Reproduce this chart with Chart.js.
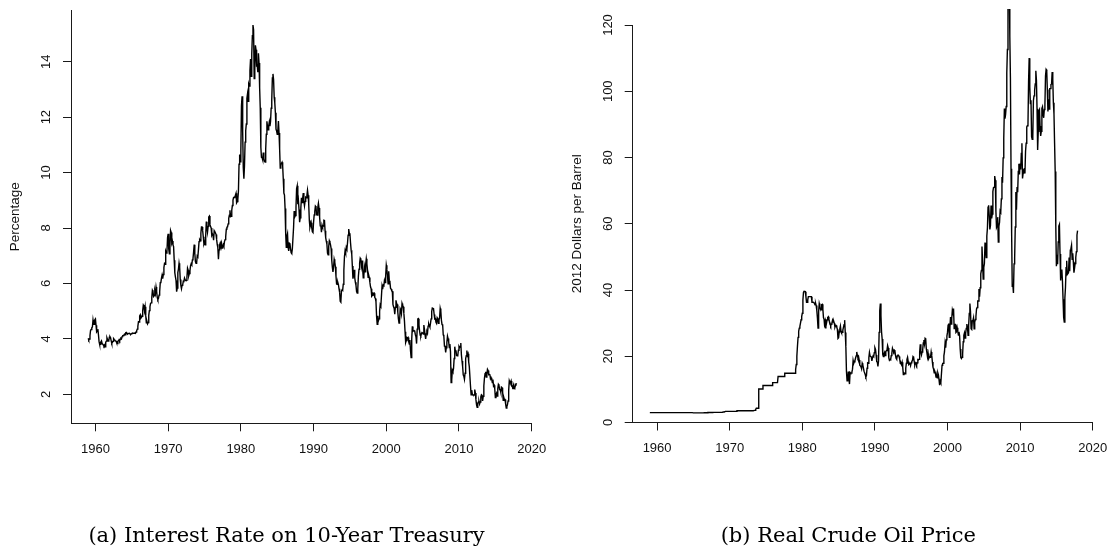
<!DOCTYPE html>
<html><head><meta charset="utf-8">
<script src="https://cdn.jsdelivr.net/npm/chart.js@4.4.1/dist/chart.umd.min.js"></script>
<style>
html,body{margin:0;padding:0;background:#fff;}
body{width:1110px;height:550px;position:relative;overflow:hidden;}
canvas{position:absolute;top:0;}
#c1{left:0px} #c2{left:555px}
.cap{position:absolute;font-family:'DejaVu Serif',serif;font-size:21px;line-height:1;text-align:center;white-space:nowrap;color:#000;top:525px;width:600px;}
</style></head><body>
<canvas id="c1" width="555" height="550"></canvas>
<canvas id="c2" width="555" height="550"></canvas>
<div class="cap" style="left:-13.5px">(a) Interest Rate on 10-Year Treasury</div>
<div class="cap" style="left:548.3px">(b) Real Crude Oil Price</div>
<script>
// ---- data (monthly, Jan 1959 - Dec 2017) ----
const years = [1959,1960,1961,1962,1963,1964,1965,1966,1967,1968,1969,1970,1971,1972,1973,1974,1975,1976,1977,1978,1979,1980,1981,1982,1983,1984,1985,1986,1987,1988,1989,1990,1991,1992,1993,1994,1995,1996,1997,1998,1999,2000,2001,2002,2003,2004,2005,2006,2007,2008,2009,2010,2011,2012,2013,2014,2015,2016,2017];
const monthsPerYear = 12;

const treasuryRate = [
4.02,3.96,3.99,4.12,4.31,4.34,4.40,4.43,4.68,4.53,4.53,4.69,
4.72,4.49,4.25,4.28,4.35,4.15,3.90,3.80,3.80,3.89,3.93,3.84,
3.84,3.78,3.74,3.78,3.71,3.88,3.92,4.04,3.98,3.92,3.94,4.06,
4.08,4.04,3.93,3.84,3.87,3.91,4.01,3.98,3.98,3.93,3.92,3.86,
3.83,3.92,3.93,3.97,3.93,3.99,4.02,4.00,4.08,4.11,4.12,4.13,
4.17,4.15,4.22,4.23,4.20,4.17,4.19,4.19,4.20,4.19,4.15,4.18,
4.19,4.21,4.21,4.20,4.21,4.21,4.20,4.25,4.29,4.35,4.45,4.62,
4.61,4.83,4.87,4.75,4.78,4.81,5.02,5.22,5.18,5.01,5.16,4.84,
4.58,4.63,4.54,4.59,4.85,5.02,5.16,5.28,5.30,5.48,5.75,5.70,
5.53,5.56,5.74,5.64,5.87,5.72,5.50,5.42,5.46,5.58,5.70,6.03,
6.04,6.19,6.30,6.17,6.32,6.57,6.72,6.69,7.16,7.10,7.14,7.65,
7.79,7.24,7.07,7.39,7.91,7.84,7.46,7.53,7.39,7.33,6.84,6.39,
6.24,6.11,5.70,5.83,6.39,6.52,6.73,6.58,6.14,5.93,5.81,5.93,
5.95,6.08,6.07,6.19,6.13,6.11,6.11,6.21,6.55,6.48,6.28,6.36,
6.46,6.64,6.71,6.67,6.85,6.90,7.13,7.40,7.09,6.79,6.73,6.74,
6.99,6.96,7.21,7.51,7.58,7.54,7.81,8.04,8.04,7.90,7.68,7.43,
7.50,7.39,7.73,8.23,8.06,7.86,8.06,8.40,8.43,8.14,8.05,8.00,
7.74,7.79,7.73,7.56,7.90,7.86,7.83,7.77,7.59,7.41,7.29,6.87,
7.21,7.39,7.46,7.37,7.46,7.28,7.33,7.40,7.34,7.52,7.58,7.69,
7.96,8.03,8.04,8.15,8.35,8.46,8.64,8.41,8.42,8.64,8.81,9.01,
9.10,9.10,9.12,9.18,9.25,8.91,8.95,9.03,9.33,10.30,10.65,10.39,
10.80,12.41,12.75,11.47,10.18,9.78,10.25,11.10,11.51,11.75,12.68,12.84,
12.57,13.19,13.12,13.68,14.10,13.47,14.28,14.94,15.32,15.15,13.39,13.72,
14.59,14.43,13.86,13.87,13.62,14.30,13.95,13.06,12.34,10.91,10.55,10.54,
10.46,10.72,10.51,10.40,10.38,10.85,11.38,11.85,11.65,11.54,11.69,11.83,
11.67,11.84,12.32,12.63,13.41,13.56,13.36,12.72,12.52,12.16,11.57,11.50,
11.38,11.51,11.86,11.43,10.85,10.16,10.31,10.33,10.37,10.24,9.78,9.26,
9.19,8.70,7.78,7.30,7.71,7.80,7.30,7.17,7.45,7.43,7.25,7.11,
7.08,7.25,7.25,8.02,8.61,8.40,8.45,8.76,9.42,9.52,8.86,8.99,
8.67,8.21,8.37,8.72,9.09,8.92,9.06,9.26,8.98,8.80,8.96,9.11,
9.09,9.17,9.36,9.18,8.86,8.28,8.02,8.11,8.19,8.01,7.87,7.84,
8.21,8.47,8.59,8.79,8.76,8.48,8.47,8.75,8.89,8.72,8.39,8.08,
8.09,7.85,8.11,8.04,8.07,8.28,8.27,7.90,7.65,7.53,7.42,7.09,
7.03,7.34,7.54,7.48,7.39,7.26,6.84,6.59,6.42,6.59,6.87,6.77,
6.60,6.26,5.98,5.97,6.04,5.96,5.81,5.68,5.36,5.33,5.72,5.77,
5.75,5.97,6.48,6.97,7.18,7.10,7.30,7.24,7.46,7.74,7.96,7.81,
7.78,7.47,7.20,7.06,6.63,6.17,6.28,6.49,6.20,6.04,5.93,5.71,
5.65,5.81,6.27,6.51,6.74,6.91,6.87,6.64,6.83,6.53,6.20,6.30,
6.58,6.42,6.69,6.89,6.71,6.49,6.22,6.30,6.21,6.03,5.88,5.81,
5.54,5.57,5.65,5.64,5.65,5.50,5.46,5.34,4.81,4.53,4.83,4.65,
4.72,5.00,5.23,5.18,5.54,5.90,5.79,5.94,5.92,6.11,6.03,6.28,
6.66,6.52,6.26,5.99,6.44,6.10,6.05,5.83,5.80,5.74,5.72,5.24,
5.16,5.10,4.89,5.14,5.39,5.28,5.24,4.97,4.73,4.57,4.65,5.09,
5.04,4.91,5.28,5.21,5.16,4.93,4.65,4.26,3.87,3.94,4.05,4.03,
4.05,3.90,3.81,3.96,3.57,3.33,3.98,4.45,4.27,4.29,4.30,4.27,
4.15,4.08,3.83,4.35,4.72,4.73,4.50,4.28,4.13,4.10,4.19,4.23,
4.22,4.17,4.50,4.34,4.14,4.00,4.18,4.26,4.20,4.46,4.54,4.47,
4.42,4.57,4.72,4.99,5.11,5.11,5.09,4.88,4.72,4.73,4.60,4.56,
4.76,4.72,4.56,4.69,4.75,5.10,5.00,4.67,4.52,4.53,4.15,4.10,
3.74,3.74,3.51,3.68,3.88,4.10,4.01,3.89,3.69,3.81,3.53,2.42,
2.52,2.87,2.82,2.93,3.29,3.72,3.56,3.59,3.40,3.39,3.40,3.59,
3.73,3.69,3.73,3.85,3.42,3.20,3.01,2.70,2.65,2.54,2.76,3.29,
3.39,3.58,3.41,3.46,3.17,3.00,3.00,2.30,1.98,2.15,2.01,1.98,
1.97,1.97,2.17,2.05,1.80,1.62,1.53,1.68,1.72,1.75,1.65,1.72,
1.91,1.98,1.96,1.76,1.93,2.30,2.58,2.74,2.81,2.62,2.72,2.90,
2.86,2.71,2.72,2.71,2.56,2.60,2.54,2.42,2.53,2.30,2.33,2.21,
1.88,1.98,2.04,1.94,2.20,2.36,2.32,2.17,2.17,2.07,2.26,2.24,
2.09,1.78,1.89,1.81,1.81,1.64,1.50,1.56,1.63,1.76,2.14,2.49,
2.43,2.42,2.48,2.30,2.30,2.19,2.32,2.21,2.20,2.36,2.35,2.40
];

const oilPrice = [
2.97,2.97,2.97,2.97,2.97,2.97,2.97,2.97,2.97,2.97,2.97,2.97,
2.97,2.97,2.97,2.97,2.97,2.97,2.97,2.97,2.97,2.97,2.97,2.97,
2.97,2.97,2.97,2.97,2.97,2.97,2.97,2.97,2.97,2.97,2.97,2.97,
2.97,2.97,2.97,2.97,2.97,2.97,2.97,2.97,2.97,2.97,2.97,2.97,
2.97,2.97,2.97,2.97,2.97,2.97,2.97,2.97,2.97,2.97,2.97,2.97,
2.97,2.97,2.97,2.97,2.97,2.97,2.97,2.97,2.97,2.97,2.97,2.97,
2.92,2.92,2.92,2.92,2.92,2.92,2.92,2.92,2.92,2.92,2.92,2.92,
2.92,2.92,2.92,2.92,2.92,2.92,2.94,2.94,2.94,2.94,2.94,2.94,
3.00,3.00,3.00,3.00,3.00,3.00,3.00,3.00,3.07,3.07,3.07,3.07,
3.07,3.07,3.07,3.07,3.07,3.07,3.07,3.07,3.07,3.07,3.07,3.07,
3.07,3.18,3.18,3.18,3.18,3.35,3.35,3.35,3.35,3.35,3.35,3.35,
3.35,3.35,3.35,3.35,3.35,3.35,3.35,3.35,3.35,3.35,3.35,3.35,
3.56,3.56,3.56,3.56,3.56,3.56,3.56,3.56,3.56,3.56,3.56,3.56,
3.56,3.56,3.56,3.56,3.56,3.56,3.56,3.56,3.56,3.56,3.56,3.56,
3.56,3.56,3.56,3.56,3.56,3.66,3.66,3.98,4.31,4.31,4.31,4.31,
10.11,10.11,10.11,10.11,10.11,10.11,10.11,11.16,11.16,11.16,11.16,11.16,
11.16,11.16,11.16,11.16,11.16,11.16,11.16,11.16,11.16,11.16,11.16,12.03,
12.03,12.03,12.03,12.03,12.03,12.03,12.03,12.03,13.90,13.90,13.90,13.90,
13.90,13.90,13.90,13.90,13.90,13.90,13.90,14.85,14.85,14.85,14.85,14.85,
14.85,14.85,14.85,14.85,14.85,14.85,14.85,14.85,14.85,14.85,14.85,14.85,
14.85,16.00,17.50,20.00,23.00,25.70,27.50,28.50,29.00,30.00,31.00,32.00,
33.00,37.00,39.30,39.60,39.60,39.50,38.00,36.30,36.30,37.00,38.00,38.00,
38.00,38.00,38.00,38.00,36.30,36.30,36.30,36.30,36.00,35.50,36.00,35.30,
33.80,31.60,28.50,33.50,35.90,35.10,34.20,34.00,35.60,35.70,34.20,31.70,
31.20,29.00,28.60,30.60,30.00,31.00,31.70,31.90,31.10,30.40,29.80,29.20,
29.70,30.10,30.90,30.30,30.50,29.90,28.80,29.30,29.30,28.80,28.10,25.40,
25.60,27.30,28.20,29.10,27.60,27.10,27.20,27.90,28.70,29.50,30.90,27.20,
22.90,15.40,12.60,12.80,15.40,13.40,11.60,15.10,14.90,14.90,15.20,16.10,
18.70,17.80,18.30,18.70,19.40,20.10,21.30,20.30,19.50,19.90,18.90,17.30,
17.10,16.80,16.20,17.90,17.40,16.50,15.50,15.50,14.50,13.80,14.10,16.40,
18.00,17.90,19.50,21.10,20.10,20.10,19.80,18.60,19.60,20.10,19.90,21.10,
22.60,22.10,20.40,18.40,18.20,16.90,18.60,27.20,33.70,35.90,32.30,27.30,
25.20,20.50,19.90,20.80,21.20,20.20,21.40,21.70,21.90,23.20,22.50,19.50,
18.80,19.00,18.90,20.20,20.90,22.40,21.80,21.40,21.90,21.70,20.30,19.40,
19.10,20.10,20.30,20.30,19.90,19.10,17.90,18.00,17.50,18.20,16.70,14.50,
15.00,14.80,14.70,16.40,17.90,19.10,19.70,18.40,17.50,17.70,18.10,17.20,
18.00,18.50,18.60,19.90,19.70,18.40,17.30,17.90,18.00,17.40,18.00,19.00,
18.90,19.10,21.30,23.60,21.20,20.40,21.30,22.00,24.00,24.90,23.70,25.40,
25.20,22.20,21.00,19.70,20.80,19.30,19.70,19.90,19.80,21.30,20.20,18.30,
16.70,16.10,15.00,15.40,14.90,13.70,14.20,13.50,15.00,14.40,12.90,11.30,
12.50,12.00,14.70,17.30,17.80,17.90,20.10,21.30,23.90,22.60,25.00,26.10,
27.20,29.40,29.90,25.70,28.80,31.80,29.70,31.30,33.90,33.10,34.40,28.40,
29.60,29.60,27.20,27.40,28.60,27.60,26.40,27.40,26.20,22.20,19.60,19.30,
19.70,20.70,24.40,26.30,27.00,25.50,26.90,28.40,29.70,28.80,26.30,29.40,
32.90,35.90,33.60,28.30,28.10,30.70,30.80,31.60,28.30,30.30,31.10,32.10,
34.30,34.70,36.70,36.70,40.30,38.00,40.70,44.90,45.90,53.10,48.50,43.30,
46.80,48.00,54.30,53.00,49.80,56.30,58.70,65.00,65.60,62.40,58.30,59.40,
65.50,61.60,62.90,69.70,70.90,71.00,74.40,73.10,63.80,58.90,59.40,62.00,
54.50,59.30,60.40,63.90,63.50,67.50,74.10,72.40,79.90,85.80,94.80,91.70,
93.00,95.40,105.50,112.60,125.40,133.90,133.40,116.70,104.10,76.60,57.30,41.10,
41.70,39.10,47.90,49.70,59.00,69.60,64.20,71.10,69.50,75.80,78.10,74.90,
78.20,76.40,81.20,84.30,73.70,75.30,76.30,76.60,75.20,81.90,84.30,89.20,
89.60,89.70,102.90,110.00,101.30,96.30,97.30,86.30,85.50,86.30,97.20,98.60,
100.30,102.20,106.20,103.30,94.70,82.30,87.90,94.10,94.50,89.50,86.50,87.90,
94.80,95.30,92.90,92.00,94.50,95.80,104.60,106.60,106.30,100.50,93.90,97.60,
94.60,100.80,100.80,102.10,102.20,105.80,103.60,96.50,93.20,84.40,75.80,59.30,
47.20,50.60,47.80,54.50,59.30,59.80,50.90,42.90,45.50,46.20,42.70,37.20,
31.70,30.30,37.60,40.80,46.70,48.80,44.70,44.70,45.20,49.80,45.70,52.00,
52.50,53.50,49.30,51.10,48.50,45.20,46.60,48.00,49.80,51.60,56.60,57.90
];

const xTicks = [1960,1970,1980,1990,2000,2010,2020];
const treasuryTicks = [2,4,6,8,10,12,14];
const oilTicks = [0,20,40,60,80,100,120];
const treasuryLabel = 'Percentage';
const oilLabel = '2012 Dollars per Barrel';

// month dates for each observation
const monthDates = [];
years.forEach(y => { for (let m = 0; m < monthsPerYear; m++) monthDates.push(y + m / monthsPerYear); });

const SANS = "'Liberation Sans', Arial, Helvetica, sans-serif";
const AXIS = '#1a1a1a';
const TEXT = '#111';
Chart.defaults.font.family = SANS;

function makePanel(id, values, cfg) {
  const pts = values.map((v, i) => ({x: monthDates[i], y: v}));
  return new Chart(document.getElementById(id), {
    type: 'line',
    data: { datasets: [{
      data: pts, borderColor: '#000', borderWidth: 1.4, pointRadius: 0,
      tension: 0, fill: false, clip: cfg.clip
    }]},
    options: {
      responsive: false, animation: false, devicePixelRatio: 1,
      layout: { padding: cfg.pad },
      plugins: { legend: {display: false}, tooltip: {enabled: false}, title: {display: false} },
      scales: {
        x: {
          type: 'linear', min: 1956.64, max: 2020,
          afterBuildTicks: s => { s.ticks = xTicks.map(v => ({value: v})); },
          afterFit: s => { s.height = 40; s.paddingLeft = 0; s.paddingRight = 0; },
          grid: {display: true, drawOnChartArea: false, drawTicks: true, tickLength: 8, color: AXIS, lineWidth: 1},
          border: {display: true, color: AXIS, width: 1},
          ticks: {maxRotation: 0, minRotation: 0, padding: 10.5, color: TEXT, font: {size: 13},
                  callback: v => String(v)}
        },
        y: {
          type: 'linear', min: cfg.yMin, max: cfg.yMax,
          afterBuildTicks: s => { s.ticks = cfg.yTicks.map(v => ({value: v})); },
          afterFit: s => { s.width = cfg.yWidth; s.paddingTop = 0; s.paddingBottom = 0; },
          grid: {display: true, drawOnChartArea: false, drawTicks: true, tickLength: 8, color: AXIS, lineWidth: 1},
          border: {display: true, color: AXIS, width: 1},
          ticks: {minRotation: 90, maxRotation: 90, crossAlign: 'center', padding: cfg.yPad, color: TEXT, font: {size: 13},
                  callback: v => String(v)},
          title: {display: true, text: cfg.yTitle, color: TEXT, font: {size: 13.5}, padding: {top: cfg.titlePad, bottom: 0}}
        }
      }
    }
  });
}

makePanel('c1', treasuryRate, {
  yMin: 0.954, yMax: 15.865, yTicks: treasuryTicks, yTitle: treasuryLabel,
  yWidth: 71, yPad: 9.1, titlePad: 6.9,
  pad: {left: 0, top: 10, right: 23.3, bottom: 86.7},
  clip: 3
});
makePanel('c2', oilPrice, {
  yMin: 0, yMax: 120, yTicks: oilTicks, yTitle: oilLabel,
  yWidth: 77.7, yPad: 5.6, titlePad: 14.4,
  pad: {left: 0, top: 25, right: 17.3, bottom: 87.5},
  clip: {left: 3, top: 16, right: 3, bottom: 3}
});
</script>
</body></html>
